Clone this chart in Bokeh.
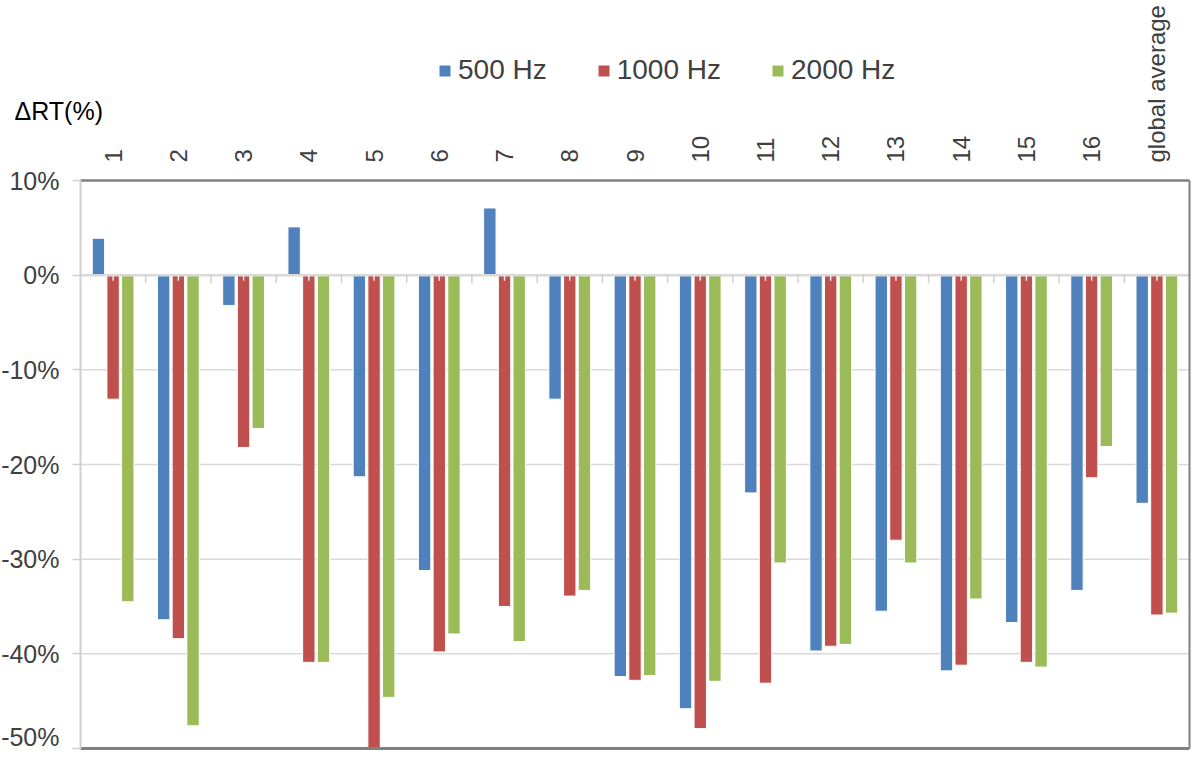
import numpy as np
from bokeh.plotting import figure
from bokeh.models import ColumnDataSource, FixedTicker, PrintfTickFormatter, Label, Legend
from bokeh.embed import file_html
from bokeh.resources import INLINE

categories = [str(i) for i in range(1, 17)] + ["global average"]
v500 = [3.9, -36.4, -3.2, 5.1, -21.3, -31.2, 7.1, -13.1, -42.4, -45.8, -23.0, -39.7, -35.5, -41.8, -36.7, -33.3, -24.1]
v1000 = [-13.1, -38.4, -18.2, -40.9, -50.0, -39.8, -35.0, -33.9, -42.8, -47.9, -43.1, -39.2, -28.0, -41.2, -40.9, -21.4, -35.9]
v2000 = [-34.5, -47.6, -16.2, -40.9, -44.6, -37.9, -38.7, -33.3, -42.3, -42.9, -30.4, -39.0, -30.4, -34.2, -41.4, -18.1, -35.7]
series_names = ["500 Hz", "1000 Hz", "2000 Hz"]
y_ticks = [-50, -40, -30, -20, -10, 0, 10]

FONT = "Liberation Sans"
TXT = "#404040"
colors = ["#4f81bd", "#c0504d", "#9bbb59"]

n = len(categories)
Y0, Y1 = y_ticks[0], y_ticks[-1]

# layout in figure pixels
W, H = 1192, 750
axis_px, right_px = 80, 1189      # x of category axis start / end
top_px, bot_px = 180, 748         # y of 10% / -50%
xs = (right_px - axis_px) / n
ys = (bot_px - top_px) / (Y1 - Y0)
x_start = -axis_px / xs
x_end = n + (W - right_px) / xs
y_end = Y1 + top_px / ys
y_start = Y0 - (H - bot_px) / ys

centers = np.arange(n) + 0.5
offsets = [-0.225, 0.0, 0.225]

p = figure(x_range=(x_start, x_end), y_range=(y_start, y_end), width=W, height=H,
           x_axis_location="above", output_backend="svg", toolbar_location=None,
           min_border=0)
p.outline_line_color = None
p.background_fill_color = "white"
p.grid.grid_line_color = None

# y axis inside the frame at x = 0
p.yaxis.fixed_location = 0
p.yaxis.bounds = (Y0, Y1)
p.yaxis.ticker = FixedTicker(ticks=y_ticks)
p.yaxis.formatter = PrintfTickFormatter(format="%d%%")
p.yaxis.axis_line_color = "#d0d0d0"
p.yaxis.axis_line_width = 2
p.yaxis.major_tick_line_color = "#d0d0d0"
p.yaxis.major_tick_line_width = 1.5
p.yaxis.major_tick_out = 8
p.yaxis.major_tick_in = 0
p.yaxis.minor_tick_line_color = None
p.yaxis.major_label_text_font = FONT
p.yaxis.major_label_text_font_size = "25px"
p.yaxis.major_label_text_color = TXT
p.yaxis.major_label_standoff = 13

# category axis along the top border
p.xaxis.fixed_location = Y1
p.xaxis.ticker = FixedTicker(ticks=list(centers))
p.xaxis.major_label_overrides = {float(c): lab for c, lab in zip(centers, categories)}
p.xaxis.axis_line_color = None
p.xaxis.major_tick_line_color = None
p.xaxis.minor_tick_line_color = None
p.xaxis.major_label_orientation = np.pi / 2
p.xaxis.major_label_text_font = FONT
p.xaxis.major_label_text_font_size = "24px"
p.xaxis.major_label_text_color = TXT
p.xaxis.major_label_standoff = 12

# gridlines
grid_y = [t for t in y_ticks if t not in (Y0, Y1, 0)]
p.segment(x0=0, x1=n, y0=grid_y, y1=grid_y, line_color="#d9d9d9", line_width=1.5)

# bars
src = ColumnDataSource(dict(cat=categories, v500=v500, v1000=v1000, v2000=v2000,
                            x500=centers + offsets[0], x1000=centers + offsets[1],
                            x2000=centers + offsets[2]))
renderers = []
for col, xcol, c in zip(["v500", "v1000", "v2000"], ["x500", "x1000", "x2000"], colors):
    r = p.vbar(x=xcol, top=col, bottom=0, width=0.19, source=src,
               fill_color=c, line_color="white", line_width=1)
    renderers.append(r)

# zero axis with ticks
p.segment(x0=0, x1=n, y0=0, y1=0, line_color="#d9d9d9", line_width=2.5)
bnd = np.arange(1, n)
p.segment(x0=bnd, x1=bnd, y0=0, y1=-0.85, line_color="#cfcfcf", line_width=1.5)
p.segment(x0=centers, x1=centers, y0=0, y1=-0.6, line_color="#e8e8e8", line_width=1.5)

# frame borders
p.segment(x0=[0, 0], x1=[n, n], y0=[Y1, Y0], y1=[Y1, Y0], line_color="#808080", line_width=[2.5, 3])
p.segment(x0=n, x1=n, y0=Y0, y1=Y1, line_color="#808080", line_width=2)

# legend
legend = Legend(items=[(nm, [r]) for nm, r in zip(series_names, renderers)],
                orientation="horizontal", location=(437, 664),
                label_text_font=FONT, label_text_font_size="28px", label_text_color=TXT,
                glyph_width=15, glyph_height=15, label_standoff=6, spacing=49,
                padding=0, margin=0, border_line_color=None, background_fill_alpha=0)
p.add_layout(legend, "center")

# y title
p.add_layout(Label(x=(14 - axis_px) / xs, y=Y1 + (top_px - 110) / ys, text="ΔRT(%)",
                   text_font=FONT, text_font_size="25px",
                   text_color="#000000", text_baseline="middle", text_align="left"))

open("out.html", "w").write(file_html(p, INLINE))
